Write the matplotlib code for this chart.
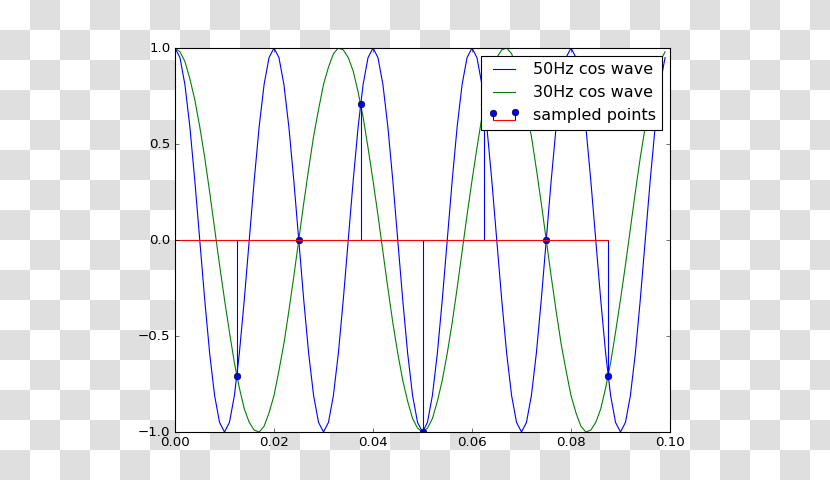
import numpy as np
import matplotlib
matplotlib.use('Agg')
import matplotlib.pyplot as plt

plt.style.use('classic')

# time grid, 1 ms steps
t = np.arange(0, 0.1, 0.001)

wave50 = [1.0, 0.95, 0.81, 0.59, 0.31, 0.0, -0.31, -0.59, -0.81, -0.95,
          -1.0, -0.95, -0.81, -0.59, -0.31, 0.0, 0.31, 0.59, 0.81, 0.95,
          1.0, 0.95, 0.81, 0.59, 0.31, 0.0, -0.31, -0.59, -0.81, -0.95,
          -1.0, -0.95, -0.81, -0.59, -0.31, 0.0, 0.31, 0.59, 0.81, 0.95,
          1.0, 0.95, 0.81, 0.59, 0.31, 0.0, -0.31, -0.59, -0.81, -0.95,
          -1.0, -0.95, -0.81, -0.59, -0.31, 0.0, 0.31, 0.59, 0.81, 0.95,
          1.0, 0.95, 0.81, 0.59, 0.31, 0.0, -0.31, -0.59, -0.81, -0.95,
          -1.0, -0.95, -0.81, -0.59, -0.31, 0.0, 0.31, 0.59, 0.81, 0.95,
          1.0, 0.95, 0.81, 0.59, 0.31, 0.0, -0.31, -0.59, -0.81, -0.95,
          -1.0, -0.95, -0.81, -0.59, -0.31, 0.0, 0.31, 0.59, 0.81, 0.95]

wave30 = [1.0, 0.98, 0.93, 0.84, 0.73, 0.59, 0.43, 0.25, 0.06, -0.13,
          -0.31, -0.48, -0.64, -0.77, -0.88, -0.95, -0.99, -1.0, -0.97, -0.90,
          -0.81, -0.68, -0.54, -0.37, -0.19, 0.0, 0.19, 0.37, 0.54, 0.68,
          0.81, 0.90, 0.97, 1.0, 0.99, 0.95, 0.88, 0.77, 0.64, 0.48,
          0.31, 0.13, -0.06, -0.25, -0.43, -0.59, -0.73, -0.84, -0.93, -0.98,
          -1.0, -0.98, -0.93, -0.84, -0.73, -0.59, -0.43, -0.25, -0.06, 0.13,
          0.31, 0.48, 0.64, 0.77, 0.88, 0.95, 0.99, 1.0, 0.97, 0.90,
          0.81, 0.68, 0.54, 0.37, 0.19, 0.0, -0.19, -0.37, -0.54, -0.68,
          -0.81, -0.90, -0.97, -1.0, -0.99, -0.95, -0.88, -0.77, -0.64, -0.48,
          -0.31, -0.13, 0.06, 0.25, 0.43, 0.59, 0.73, 0.84, 0.93, 0.98]

sample_t = [0.0125, 0.025, 0.0375, 0.05, 0.0625, 0.075, 0.0875]
sample_v = [-0.71, 0.0, 0.71, -1.0, 0.71, 0.0, -0.71]

fig = plt.figure(figsize=(830 / 80., 480 / 80.), dpi=80)
fig.patch.set_alpha(0)

# checkerboard background (transparent png look)
bg = fig.add_axes([0, 0, 1, 1], zorder=-10)
rows, cols = 16, 28
checker = (np.add.outer(np.arange(rows), np.arange(cols)) % 2).astype(float)
bg.imshow(checker, cmap='gray_r', vmin=0, vmax=8, interpolation='nearest',
          extent=(0, cols * 30, rows * 30, 0), aspect='auto')
bg.set_xlim(0, 830)
bg.set_ylim(480, 0)
bg.axis('off')

ax = fig.add_axes([175 / 830., 0.1, 495 / 830., 0.8])
ax.plot(t, wave50, 'b-', label='50Hz cos wave')
ax.plot(t, wave30, 'g-', label='30Hz cos wave')
markerline, stemlines, baseline = ax.stem(sample_t, sample_v, linefmt='b-',
                                          markerfmt='bo', basefmt='r-',
                                          label='sampled points')
baseline.set_xdata([0, sample_t[-1]])
ax.set_xlim(0, 0.1)
ax.set_ylim(-1, 1)
ax.legend(loc='upper right')

fig.savefig('out.png', dpi=80)
